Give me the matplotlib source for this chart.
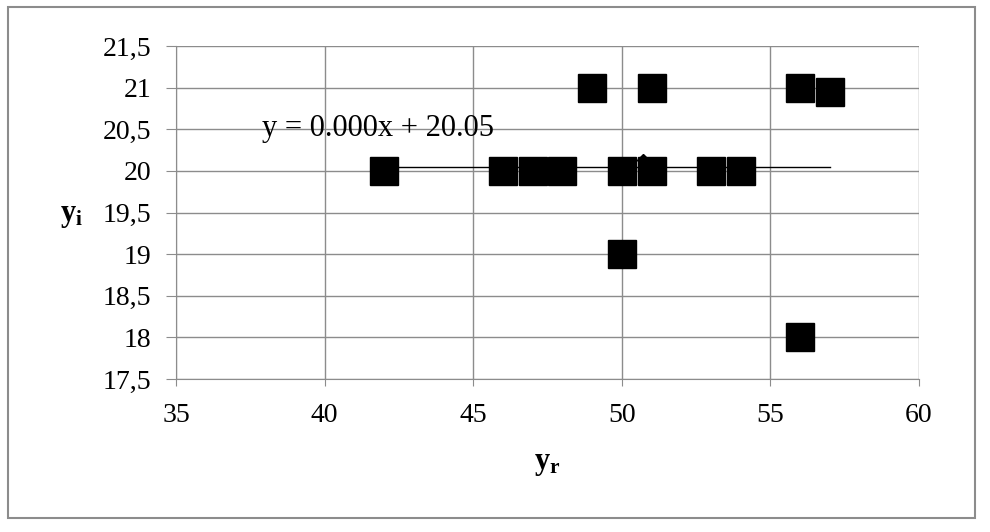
import matplotlib.pyplot as plt
from matplotlib.patches import Rectangle
from matplotlib.ticker import FuncFormatter

#%% data
yr = [42, 46, 47, 48, 49, 50, 50, 51, 51, 53, 54, 56, 56, 57]
yi = [20, 20, 20, 20, 21, 20, 19, 20, 21, 20, 20, 21, 18, 20.95]
mean_point = (50.7, 20.13)
trend_x = [42, 57]
trend_slope = 0.000
trend_icpt = 20.05

plt.rcParams['font.family'] = ['Liberation Serif', 'DejaVu Serif']
plt.rcParams['mathtext.fontset'] = 'custom'
plt.rcParams['mathtext.rm'] = 'Liberation Serif'
plt.rcParams['mathtext.it'] = 'Liberation Serif:italic'
plt.rcParams['mathtext.bf'] = 'Liberation Serif:bold'

fig = plt.figure(figsize=(9.9, 5.32), dpi=100)
ax = fig.add_axes([0.1778, 0.2876, 0.7505, 0.6259])

ax.plot(yr, yi, 's', color='black', markersize=20, zorder=3)
ax.plot(*mean_point, 'D', color='black', markersize=6, zorder=4)
ax.plot(trend_x, [trend_slope * x + trend_icpt for x in trend_x], color='black', lw=1, zorder=2)
ax.text(37.9, 20.515, "y = 0.000x + 20.05", fontsize=22, va='center', ha='left')

ax.set_xlim(35, 60)
ax.set_ylim(17.5, 21.5)
ax.set_xticks(range(35, 61, 5))
ax.set_yticks([17.5 + 0.5 * i for i in range(9)])
ax.yaxis.set_major_formatter(FuncFormatter(lambda v, p: ('%g' % v).replace('.', ',')))
ax.grid(True, color='#8c8c8c', lw=1)
ax.set_axisbelow(True)
for s in ['top', 'right']:
    ax.spines[s].set_visible(False)
for s in ['left', 'bottom']:
    ax.spines[s].set_color('#8c8c8c')
ax.tick_params(axis='y', length=7, color='#8c8c8c', labelsize=20, pad=11)
ax.tick_params(axis='x', length=5, color='#8c8c8c', labelsize=20, pad=12)

# axis titles
fig.text(72 / 990, 1 - 215 / 532, r'$\mathbf{y_i}$', fontsize=22, ha='center', va='center')
fig.text(547 / 990, 1 - 463 / 532, r'$\mathbf{y_r}$', fontsize=22, ha='center', va='center')

fig.patches.append(Rectangle((8 / 990, 14 / 532), 967 / 990, 511 / 532, transform=fig.transFigure,
                             fill=False, edgecolor='#8c8c8c', lw=1.5))

fig.savefig('out.png', dpi=100)
